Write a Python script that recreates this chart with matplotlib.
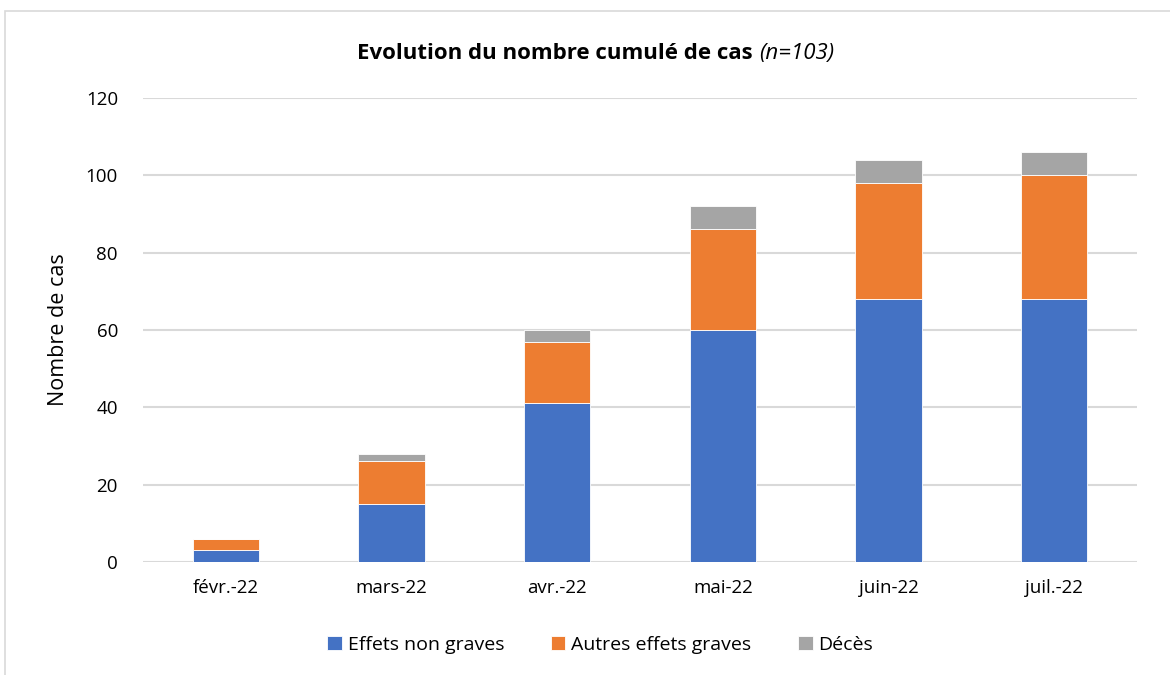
import numpy as np
import matplotlib
matplotlib.use('Agg')
from matplotlib import pyplot as plt
from matplotlib.patches import Rectangle

months = ['févr.-22', 'mars-22', 'avr.-22', 'mai-22', 'juin-22', 'juil.-22']
non_graves = [3, 15, 41, 60, 68, 68]
autres_graves = [3, 11, 16, 26, 30, 32]
deces = [0, 2, 3, 6, 6, 6]
series_names = ['Effets non graves', 'Autres effets graves', 'Décès']
colors = ['#4472C4', '#ED7D31', '#A5A5A5']
yticks = [0, 20, 40, 60, 80, 100, 120]

plt.rcParams['font.family'] = ['Open Sans', 'DejaVu Sans']

fig = plt.figure(figsize=(11.7, 6.75), dpi=100)
# outer chart frame
fig.patches.append(Rectangle((0.004, -0.01), 1.1, 0.993, transform=fig.transFigure,
                             fill=False, edgecolor='#d9d9d9', linewidth=1.2))
ax = fig.add_axes([0.1222, 0.1674, 0.8496, 0.6874])

x = np.arange(len(months))
bottom = np.zeros(len(months))
for vals, name, c in zip([non_graves, autres_graves, deces], series_names, colors):
	ax.bar(x, vals, width=0.40, bottom=bottom, color=c, label=name,
		   edgecolor='white', linewidth=0.6, zorder=3)
	bottom += np.array(vals)

ax.set_xlim(-0.5, len(months) - 0.5)
ax.set_ylim(0, 120)
ax.set_yticks(yticks)
ax.set_xticks(x)
ax.set_xticklabels(months)
ax.yaxis.grid(True, color='#d9d9d9', linewidth=1.5, zorder=0)
ax.tick_params(axis='both', length=0, labelsize=13.5, colors='#000000')
ax.tick_params(axis='x', pad=12)
ax.tick_params(axis='y', pad=18)
for s in ax.spines.values():
	s.set_visible(False)
ax.set_ylabel('Nombre de cas', fontsize=15.5, labelpad=12)

# title: bold part + italic part, centred together
t1 = fig.text(0, 0.921, 'Evolution du nombre cumulé de cas ', fontsize=16, fontweight='bold',
			  ha='left', va='center')
t2 = fig.text(0, 0.921, '(n=103)', fontsize=16, fontstyle='italic', ha='left', va='center')
fig.canvas.draw()
r = fig.canvas.get_renderer()
w1 = t1.get_window_extent(r).width / fig.bbox.width
w2 = t2.get_window_extent(r).width / fig.bbox.width
x0 = 0.509 - (w1 + w2) / 2
t1.set_x(x0)
t2.set_x(x0 + w1)

fig.legend(loc='center', bbox_to_anchor=(0.513, 0.045), ncol=3, frameon=False,
		   fontsize=14, handlelength=0.75, handleheight=0.75, columnspacing=2.4, handletextpad=0.3)

fig.savefig('out.png', dpi=100)
